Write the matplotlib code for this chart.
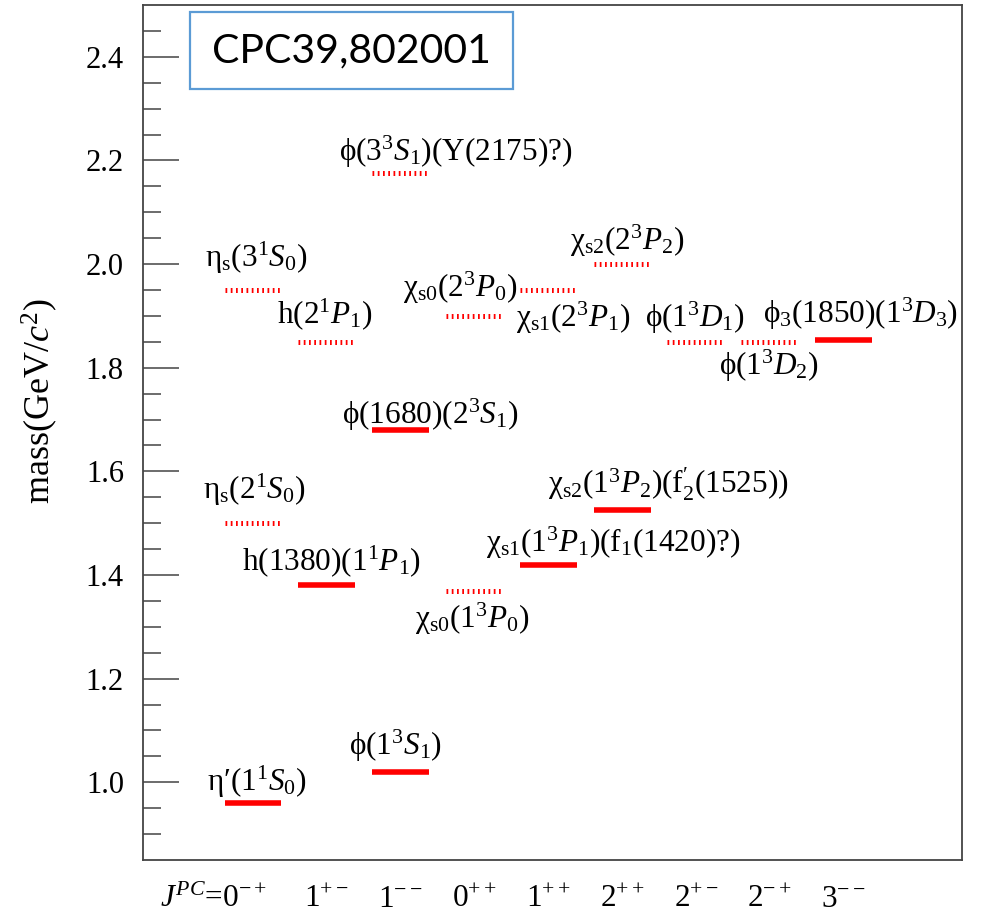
import matplotlib
matplotlib.use("Agg")
import matplotlib.pyplot as plt
from matplotlib.patches import Rectangle
from matplotlib.transforms import blended_transform_factory

plt.rcParams["font.family"] = ["Liberation Serif", "DejaVu Serif"]
plt.rcParams["mathtext.fontset"] = "custom"
plt.rcParams["mathtext.rm"] = "Liberation Serif"
plt.rcParams["mathtext.it"] = "Liberation Serif:italic"
plt.rcParams["mathtext.bf"] = "Liberation Serif:bold"
plt.rcParams["mathtext.fallback"] = "stix"

# ==== data ====
jpc_labels = [r"$J^{PC}$=0$^{-+}$", r"1$^{+-}$", r"1$^{--}$", r"0$^{++}$", r"1$^{++}$",
              r"2$^{++}$", r"2$^{+-}$", r"2$^{-+}$", r"3$^{--}$"]

# column index, mass (GeV), observed state (solid) or prediction (dotted)
columns = [0, 0, 0, 1, 1, 2, 2, 2, 3, 3, 4, 4, 5, 5, 6, 7, 8]
masses = [0.96, 1.50, 1.95, 1.38, 1.85, 1.019, 1.68, 2.175, 1.37, 1.90,
          1.42, 1.95, 1.525, 2.00, 1.85, 1.85, 1.854]
observed = [True, False, False, True, False, True, True, False, False, False,
            True, False, True, False, False, False, True]
names = [
    r"η′(1$^1S_0$)",
    r"η$_\mathrm{s}$(2$^1S_0$)",
    r"η$_\mathrm{s}$(3$^1S_0$)",
    r"h(1380)(1$^1P_1$)",
    r"h(2$^1P_1$)",
    r"ϕ(1$^3S_1$)",
    r"ϕ(1680)(2$^3S_1$)",
    r"ϕ(3$^3S_1$)(Y(2175)?)",
    r"χ$_\mathrm{s0}$(1$^3P_0$)",
    r"χ$_\mathrm{s0}$(2$^3P_0$)",
    r"χ$_\mathrm{s1}$(1$^3P_1$)(f$_1$(1420)?)",
    r"χ$_\mathrm{s1}$(2$^3P_1$)",
    r"χ$_\mathrm{s2}$(1$^3P_2$)(f$_2^\prime$(1525))",
    r"χ$_\mathrm{s2}$(2$^3P_2$)",
    r"ϕ(1$^3D_1$)",
    r"ϕ(1$^3D_2$)",
    r"ϕ$_3$(1850)(1$^3D_3$)",
]

# label anchor (left, baseline) in data units
label_pos = [(-0.63, 0.984), (-0.68, 1.546), (-0.65, 1.995), (-0.15, 1.409), (0.32, 1.886),
             (1.30, 1.053), (1.20, 1.692), (1.17, 2.199), (2.19, 1.297), (2.03, 1.937),
             (3.16, 1.445), (3.57, 1.878), (4.00, 1.557), (4.30, 2.027), (5.31, 1.878),
             (6.32, 1.786), (6.91, 1.887)]

# ==== figure ====
fig = plt.figure(figsize=(9.81, 9.15), dpi=100)
ax = fig.add_axes([0.1461, 0.0601, 0.8342, 0.9344])

half = 0.386
for c, m, obs in zip(columns, masses, observed):
    if obs:
        ax.plot([c - half, c + half], [m, m], color="#ff0000", lw=4.0,
                solid_capstyle="butt")
    else:
        ax.plot([c - half, c + half], [m, m], color="#ff0000", lw=3.6,
                dashes=(0.35, 0.7), dash_capstyle="butt")

for txt, (lx, ly) in zip(names, label_pos):
    ax.text(lx, ly, txt, fontsize=22.5, ha="left", va="baseline")

ax.set_xlim(-1.486, 9.602)
ax.set_ylim(0.85, 2.5)
ax.set_xticks([])
ax.set_yticks([1.0, 1.2, 1.4, 1.6, 1.8, 2.0, 2.2, 2.4])
ax.set_yticks([0.9 + 0.05 * i for i in range(32)], minor=True)
ax.set_yticklabels(["1.0", "1.2", "1.4", "1.6", "1.8", "2.0", "2.2", "2.4"])
ax.tick_params(axis="y", which="major", direction="in", length=26, width=1.1,
               color="#444444", labelsize=22, pad=14)
ax.tick_params(axis="y", which="minor", direction="in", length=13, width=1.1,
               color="#444444")
for s in ax.spines.values():
    s.set_color("#444444")
    s.set_linewidth(1.3)

# x category labels under the frame
trans = blended_transform_factory(ax.transData, fig.transFigure)
ax.text(0.19, 0.009, jpc_labels[0], transform=trans, fontsize=22.5,
        ha="right", va="baseline")
for i, lab in enumerate(jpc_labels[1:], start=1):
    ax.text(i, 0.009, lab, transform=trans, fontsize=22.5, ha="center", va="baseline")

ax.text(-0.126, 0.537, r"mass(GeV/$c^2$)", transform=ax.transAxes, rotation=90,
        fontsize=26, ha="center", va="center")

# reference box
fig.patches.append(Rectangle((0.1937, 0.9024), 0.3293, 0.0848, transform=fig.transFigure,
                             fill=False, edgecolor="#5b9bd5", lw=1.6))
fig.text(0.3583, 0.9448, "CPC39,802001", fontsize=29.5, family="Lato",
         ha="center", va="center")

plt.savefig("out.png")
plt.close()
